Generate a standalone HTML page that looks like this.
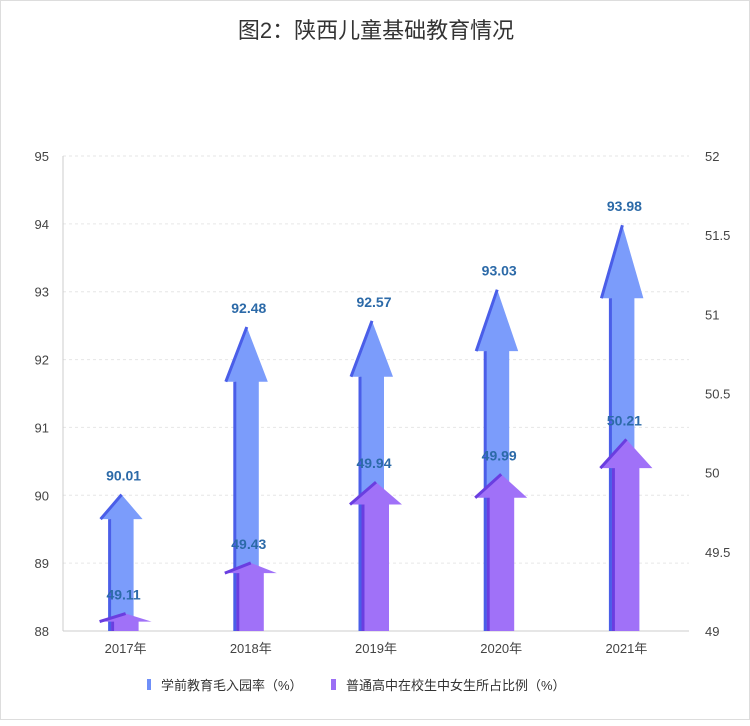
<!DOCTYPE html>
<html><head><meta charset="utf-8"><style>
body{margin:0;background:#fff;}
#wrap{position:relative;width:750px;height:720px;background:#fff;border:1px solid #ddd;box-sizing:border-box;}
</style></head><body>
<div id="wrap">
<svg id="chart" width="750" height="720" xmlns="http://www.w3.org/2000/svg">
<text x="375" y="37" text-anchor="middle" font-family="Liberation Sans, Noto Sans CJK SC, sans-serif" font-size="22" fill="#333">图2：陕西儿童基础教育情况</text>
<g id="grid"></g><g id="marks"></g><g id="labels"></g>
<g>
<g><rect x="146" y="678" width="4" height="11" fill="#6f8ff8"/><text x="160" y="689" font-family="Liberation Sans, Noto Sans CJK SC, sans-serif" font-size="13" fill="#333">学前教育毛入园率（%）</text></g>
<g><rect x="330" y="678" width="5" height="11" fill="#9b6ff5"/><text x="345" y="689" font-family="Liberation Sans, Noto Sans CJK SC, sans-serif" font-size="13" fill="#333">普通高中在校生中女生所占比例（%）</text></g>
</g>
</svg></div>
<script>
const categories=["2017年","2018年","2019年","2020年","2021年"];
const preschool=[90.01,92.48,92.57,93.03,93.98];
const girls=[49.11,49.43,49.94,49.99,50.21];
const leftTicks=[88,89,90,91,92,93,94,95];
const rightTicks=[49,49.5,50,50.5,51,51.5,52];
const NS="http://www.w3.org/2000/svg";
const pTop=155,pBot=630,pLeft=62,pRight=688;
const yL=v=>pBot-(v-88)/(95-88)*(pBot-pTop);
const yR=v=>pBot-(v-49)/(52-49)*(pBot-pTop);
const xC=i=>pLeft+(pRight-pLeft)/categories.length*(i+0.5)-4;
function mk(tag,attrs,parent,txt){const e=document.createElementNS(NS,tag);for(const k in attrs)e.setAttribute(k,attrs[k]);if(txt!==undefined)e.textContent=txt;document.getElementById(parent).appendChild(e);return e;}
const F="Liberation Sans, Noto Sans CJK SC, sans-serif";
leftTicks.forEach(t=>{
 const l=mk('line',{x1:pLeft,x2:pRight,y1:yL(t),y2:yL(t),stroke:'#e6e6e6','stroke-dasharray':'3,3'},'grid');
 
 
 const tx=mk('text',{x:48,y:yL(t)+5,'text-anchor':'end','font-family':F,'font-size':13,fill:'#444'},'grid',t);
 
 
});
rightTicks.forEach(t=>{
 const tx=mk('text',{x:704,y:yR(t)+5,'font-family':F,'font-size':13,fill:'#444'},'grid',t);
 
 
});
const ax=mk('line',{x1:pLeft,x2:pLeft,y1:pTop,y2:pBot,stroke:'#ccc'},'grid');


const bx=mk('line',{x1:pLeft,x2:pRight,y1:pBot,y2:pBot,stroke:'#ccc'},'grid');


categories.forEach((c,i)=>{
 const tx=mk('text',{x:xC(i)+4,y:652,'text-anchor':'middle','font-family':F,'font-size':13,fill:'#444'},'grid',c);
 
 
});
function arrow(cx,tip,base,sw,hw,hf,fill,edge,name){
 const h=base-tip, hh=Math.max(h*hf,8), hb=tip+hh;
 const d=`M${cx},${tip} L${cx+hw/2},${hb} L${cx+sw/2},${hb} L${cx+sw/2},${base} L${cx-sw/2},${base} L${cx-sw/2},${hb} L${cx-hw/2},${hb} Z`;
 const p=mk('path',{d:d,fill:fill},'marks');
 
 
 mk('path',{d:`M${cx},${tip} L${cx-hw/2},${hb} M${cx-sw/2},${hb} L${cx-sw/2},${base}`,stroke:edge,'stroke-width':3,fill:'none'},'marks');
}
preschool.forEach((v,i)=>{
 arrow(xC(i),yL(v),pBot,24,42,0.18,'#7b9cfb','#4a5ee8','arrow-preschool-'+i);
 const t=mk('text',{x:xC(i)+2,y:yL(v)-14,'text-anchor':'middle','font-family':F,'font-size':14,'font-weight':'bold',fill:'#2c6aa8'},'labels',v.toFixed(2));
 
 
});
girls.forEach((v,i)=>{
 arrow(xC(i)+4,yR(v),pBot,26,52,0.15,'#a071f8','#6a3ee0','arrow-girls-'+i);
 const t=mk('text',{x:xC(i)+2,y:yR(v)-14,'text-anchor':'middle','font-family':F,'font-size':14,'font-weight':'bold',fill:'#2c6aa8'},'labels',v.toFixed(2));
 
 
});
</script>
</body></html>
